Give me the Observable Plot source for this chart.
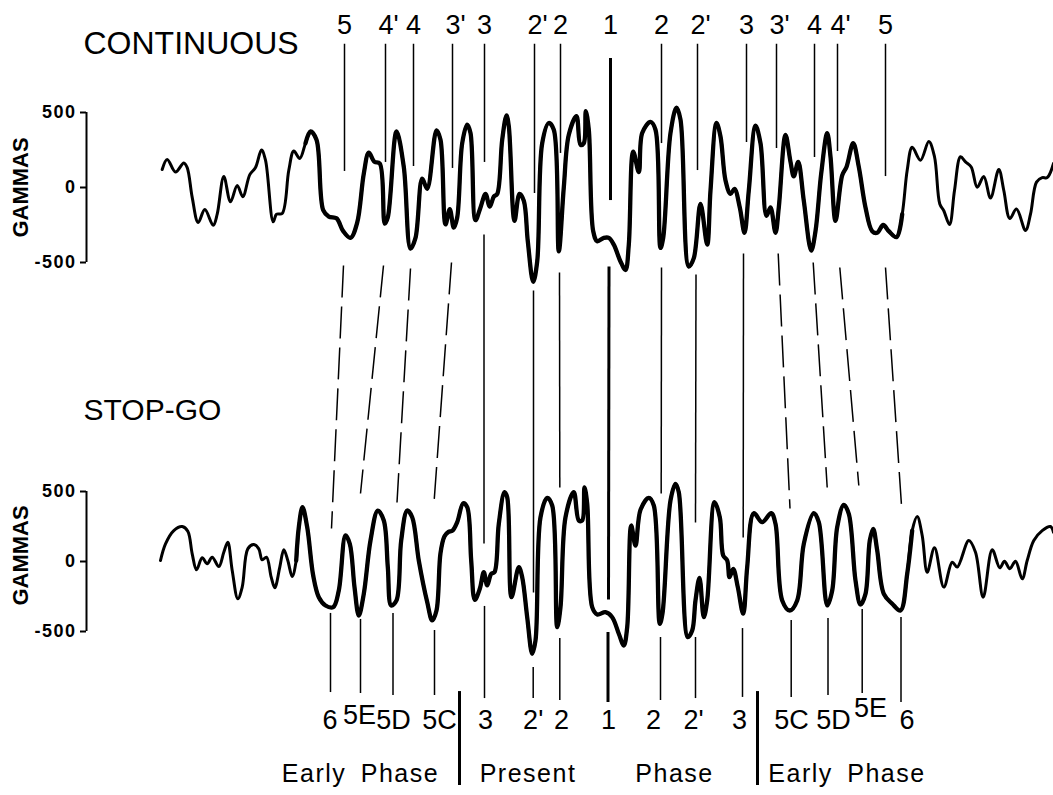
<!DOCTYPE html>
<html>
<head>
<meta charset="utf-8">
<script src="https://cdn.jsdelivr.net/npm/d3@7"></script>
<script src="https://cdn.jsdelivr.net/npm/@observablehq/plot@0.6"></script>
<style>
  html, body { margin: 0; padding: 0; background: white; }
  #chart { position: relative; width: 1053px; height: 795px; }
  #chart svg { position: absolute; left: 0; top: 0; }
</style>
</head>
<body>
<div id="chart"></div>
<script>
// ---------- DATA ----------
// Profile position (distance along track, arbitrary units) and anomaly (gammas)
const topX = [161.7,166.7,175,183.3,186.7,191.7,197.7,204.3,212.7,216.7,223.3,230,236.7,242.3,249.3,255,261,265,272.7,276,281.7,288.3,293.3,299.3,305,310,316,322.7,328.3,336,342.7,350,356.7,363.3,368.3,374,379.3,384.3,387.3,396,403.3,410,415,421.7,426.7,436,440,445,449.3,453.3,456.7,461.7,466.7,470,475,480,485,489.3,493.3,496.7,501.7,506,508.3,514,519,523.3,527.3,532.7,536.7,541.7,548.3,553.3,558.3,563.3,568.3,576,580,583.3,585.3,588.3,592.7,596.7,603.3,608.3,613.3,620,625,628.3,632.7,638.3,641.7,650,655,660,662.7,670,676,680,688.3,693.3,700,706.7,710,716,720,725,730,734,739.3,744,748.3,755,760,766,770,775,778.3,785,790,793.3,797.7,803.3,810.7,815,820.7,826.7,830,835,841.7,846,852.7,858.3,865,871.7,876.7,882.7,888.3,896,901.7,906.7,911.7,920,928.3,934,939.3,943.3,949,954,960,965,970.7,976.7,983.3,990,998.3,1003.3,1009.3,1016,1025,1030,1036,1041.7,1046.7,1053];
const topG = [120,187,103,164,133,-66,-234,-147,-252,-178,74,-95,14,-61,86,133,250,182,-228,-178,-173,115,243,194,295,374,318,-151,-194,-205,-291,-336,-234,93,232,171,160,-241,-200,374,137,-408,-336,59,-9,381,318,-246,-144,-268,-200,295,419,363,-218,-133,-43,-128,-61,-43,318,480,408,-223,-43,-88,-358,-629,-493,295,430,385,-426,2,351,475,284,295,509,385,-291,-358,-336,-336,-381,-493,-550,-381,239,103,363,437,385,-403,-336,363,532,453,-527,-471,-110,-381,-20,430,340,47,-43,-9,-133,-302,-20,412,295,-189,-133,-302,-133,351,171,74,171,-88,-421,-291,93,363,205,-223,81,137,295,137,-133,-291,-302,-250,-291,-331,-178,115,268,182,306,205,-110,-155,-246,-20,205,171,137,2,74,-70,120,-20,-207,-144,-286,-178,36,66,66,160];

const botX = [160,165,173.3,181.7,187.3,191.7,196,201.7,206.7,211.7,218.3,223.3,227.3,231.7,237.3,241.7,247.3,253.3,258.3,261.7,266,270.7,274.3,279.3,283.3,287.3,291.7,295.7,298.3,302,306.7,312.7,318.3,325,332.7,338.3,345,349.3,354,358.3,363.3,370,377.3,383.3,387.3,390.7,396,400.7,406.7,411.7,418.3,426.7,431.7,436,440,444,448,452,456.7,462.7,466.7,470.7,474.3,479.3,483.3,486.7,490.7,494,498.3,504,506.7,511,518.3,521.7,526.7,531.7,535,540,546.7,551.7,556.7,560,565,573.3,578.3,581.7,584,586.7,591.7,596.7,605,611.7,618.3,623.3,626.7,630.7,635,640,648.3,653.3,659.3,662,670,675,678.3,687.3,691.7,695,699,703.3,706.7,714,719.3,722.7,726.7,729,732.7,737.3,742.7,746.7,753.3,761.7,770.7,775,781.7,789.3,796.7,803.3,813.3,818.3,826.7,831.7,836.7,843.3,848.3,855,860,865,869.3,872.7,876.7,883.3,891.7,900,906.7,911.7,916.7,921.7,926.7,934,943.3,951.7,956.7,968.3,975,982.7,991.7,999.3,1004,1009.3,1015,1021.7,1026.7,1033.3,1041.7,1050,1053];
const botG = [7,126,221,250,216,55,-59,26,-16,31,-36,66,138,-64,-266,-183,90,121,90,12,31,-112,-188,-40,84,7,-107,7,245,388,245,-100,-255,-314,-326,-207,186,126,-183,-386,-231,150,364,293,-40,-314,-278,150,364,316,7,-290,-421,-350,60,180,212,221,281,416,388,7,-274,-195,-76,-171,-88,-76,269,495,459,-255,-40,-112,-398,-659,-564,316,455,400,-469,-326,316,495,293,293,530,412,-326,-378,-362,-398,-516,-600,-469,257,114,369,455,400,-445,-371,436,555,495,-540,-493,-278,-117,-398,-278,424,316,43,7,-112,-52,-183,-373,-40,345,281,345,269,-278,-350,-278,126,345,281,-314,-207,245,405,340,-136,-307,-231,150,233,79,-231,-302,-350,-88,221,321,186,-76,98,-183,-5,-40,150,66,-255,84,-45,2,-52,2,-124,7,150,221,250,209];

// Axis ticks (gammas)
const yTicks = [-500, 0, 500];

// Anomaly labels above the CONTINUOUS profile
const topLabels = ["5","4'","4","3'","3","2'","2","1","2","2'","3","3'","4","4'","5"];
const topLabelX = [344,385,413,452,484,534,560,610,661,697,746,776,814,837,885];
const topLineStartG = [955,955,955,955,955,955,955,860,955,955,955,955,955,955,955];
const topLineEndG = [107,167,140,127,167,-40,227,-87,293,113,300,260,200,240,73];

// Correlation lines between the profiles (top end in CONTINUOUS gammas, bottom end in STOP-GO gammas)
const linkTopX = [343,383,410,451,483.5,533,559,608.5,661,695.5,743,777.7,812.7,839.3,885];
const linkTopG = [-520,-520,-540,-500,-313,-687,-567,-527,-533,-580,-440,-440,-500,-533,-533];
const linkBotX = [331,360,396.5,433.3,483.5,533,559.3,608,660.7,695,742.7,789.5,826.7,858.3,901];
const linkBotG = [236,486,421,400,129,-221,529,-271,486,279,171,379,529,543,400];
const linkDashed = [true,true,true,true,false,false,false,false,false,false,false,true,true,true,true];

// Anomaly labels below the STOP-GO profile
const botLabels = ["6","5E","5D","5C","3","2'","2","1","2","2'","3","5C","5D","5E","6"];
const botLabelX = [329.5,359,393,439,485,529.7,561,608,653,690,739,791,833,870,906.5];
const botLabelG = [-1136,-1100,-1136,-1136,-1136,-1136,-1136,-1136,-1136,-1136,-1136,-1136,-1136,-1050,-1136];
const botLineX = [330,360,392.5,434,484,532.7,559.3,607.5,660,695,742,790.7,827.5,861.7,900.5];
const botLineTopG = [-371,-414,-371,-493,-321,-757,-550,-507,-543,-543,-479,-421,-407,-343,-400];
const botLineEndG = [-936,-943,-957,-957,-979,-979,-993,-1007,-993,-979,-971,-971,-957,-943,-1007];

// Phase annotations
const phaseLabels = ["Early Phase","Present","Phase","Early Phase"];
const phaseX = [360,527.5,674,846.5];
const phaseG = -1521;
const sepX = [459, 757];
const sepG = [-929, -1600];

// ---------- LAYOUT ----------
const W = 1053, H = 795;
const FONT = "'Liberation Sans', Arial, sans-serif";
const TOP_FRAME = [112, 262];   // pixel rows of +500 / -500 for CONTINUOUS
const BOT_FRAME = [491, 631];   // pixel rows of +500 / -500 for STOP-GO
const AXIS_X = 86;
const topScale = d3.scaleLinear([-500, 500], [TOP_FRAME[1], TOP_FRAME[0]]);
const botScale = d3.scaleLinear([-500, 500], [BOT_FRAME[1], BOT_FRAME[0]]);
const botToTop = g => topScale.invert(botScale(g));

const idx = a => d3.range(a.length);
const isPrime = s => s.endsWith("'");

function panel(frame, extraMarks) {
  return Plot.plot({
    width: W, height: H,
    marginLeft: AXIS_X, marginRight: 0,
    marginTop: frame[0], marginBottom: H - frame[1],
    x: {domain: [0, W], range: [0, W], axis: null},
    y: {domain: [-500, 500], axis: null},
    style: {background: "transparent", fontFamily: FONT, color: "black", overflow: "visible"},
    marks: [
      Plot.ruleX([AXIS_X], {y1: -500, y2: 500, strokeWidth: 2}),
      Plot.axisY(yTicks, {anchor: "left", tickSize: 6, tickPadding: 4, strokeWidth: 2,
        fontSize: 18, fontWeight: "bold", label: null, tickFormat: d => String(d)}),
      ...extraMarks
    ]
  });
}

const topPlot = panel(TOP_FRAME, [
  Plot.text(["GAMMAS"], {x: () => 20, y: () => 0, rotate: -90, fontSize: 22, fontWeight: "bold"}),
  Plot.text(["CONTINUOUS"], {x: () => 83, y: () => 960, textAnchor: "start", fontSize: 32}),
  // labels above
  Plot.text(idx(topLabels).filter(i => !isPrime(topLabels[i])), {x: i => topLabelX[i], y: () => 1080, text: i => topLabels[i], fontSize: 27}),
  Plot.text(idx(topLabels).filter(i => isPrime(topLabels[i])), {x: i => topLabelX[i], y: () => 1080, text: i => topLabels[i], fontSize: 27, dx: 3}),
  Plot.ruleX(idx(topLabelX), {x: i => topLabelX[i], y1: i => topLineStartG[i], y2: i => topLineEndG[i], strokeWidth: i => topLabels[i] === "1" ? 3 : 1.5}),
  // correlation lines
  Plot.link(idx(linkTopX).filter(i => !linkDashed[i]), {x1: i => linkTopX[i], y1: i => linkTopG[i], x2: i => linkBotX[i], y2: i => botToTop(linkBotG[i]), strokeWidth: i => i === 7 ? 3 : 1.5}),
  Plot.link(idx(linkTopX).filter(i => linkDashed[i]), {x1: i => linkTopX[i], y1: i => linkTopG[i], x2: i => linkBotX[i], y2: i => botToTop(linkBotG[i]), strokeWidth: 1.5, strokeDasharray: "32,9"}),
  // profile
  Plot.line(idx(topX), {x: i => topX[i], y: i => topG[i], curve: "catmull-rom", strokeWidth: 3}),
  Plot.line(idx(topX).filter(i => topX[i] >= 300 && topX[i] <= 905), {x: i => topX[i], y: i => topG[i], curve: "catmull-rom", strokeWidth: 4.3})
]);

const botPlot = panel(BOT_FRAME, [
  Plot.text(["GAMMAS"], {x: () => 20, y: () => 43, rotate: -90, fontSize: 22, fontWeight: "bold"}),
  Plot.text(["STOP-GO"], {x: () => 83, y: () => 1079, textAnchor: "start", fontSize: 30}),
  // profile
  Plot.line(idx(botX), {x: i => botX[i], y: i => botG[i], curve: "catmull-rom", strokeWidth: 3}),
  Plot.line(idx(botX).filter(i => botX[i] >= 295 && botX[i] <= 915), {x: i => botX[i], y: i => botG[i], curve: "catmull-rom", strokeWidth: 4.3}),
  // lines below
  Plot.ruleX(idx(botLineX), {x: i => botLineX[i], y1: i => botLineTopG[i], y2: i => botLineEndG[i], strokeWidth: i => botLabels[i] === "1" ? 3 : 1.5}),
  Plot.text(idx(botLabels).filter(i => !isPrime(botLabels[i])), {x: i => botLabelX[i], y: i => botLabelG[i], text: i => botLabels[i], fontSize: 27}),
  Plot.text(idx(botLabels).filter(i => isPrime(botLabels[i])), {x: i => botLabelX[i], y: i => botLabelG[i], text: i => botLabels[i], fontSize: 27, dx: 3}),
  Plot.ruleX(sepX, {y1: sepG[0], y2: sepG[1], strokeWidth: 3}),
  Plot.text(idx(phaseLabels), {x: i => phaseX[i], y: () => phaseG, text: i => phaseLabels[i], fontSize: 25})
]);

// widen the lettering of the annotations and tick labels like the original drafting
d3.select(botPlot).selectAll("text")
  .filter(function() { return phaseLabels.includes(this.textContent); })
  .attr("letter-spacing", 1.5).attr("word-spacing", 6);
for (const p of [topPlot, botPlot]) {
  d3.select(p).selectAll("text")
    .filter(function() { return yTicks.map(String).includes(this.textContent); })
    .attr("letter-spacing", 1.5);
}

const chart = document.getElementById("chart");
chart.appendChild(topPlot);
chart.appendChild(botPlot);
</script>
</body>
</html>
